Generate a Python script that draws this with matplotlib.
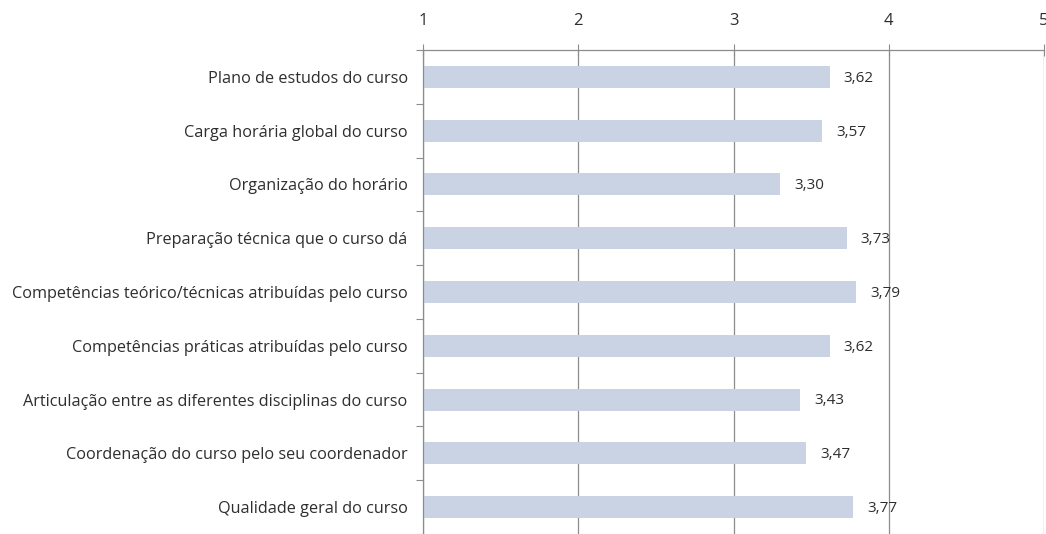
import matplotlib
matplotlib.use("Agg")
from matplotlib import pyplot as plt
import numpy as np

# Categories (top to bottom) and mean scores
categories = [
    "Plano de estudos do curso",
    "Carga horária global do curso",
    "Organização do horário",
    "Preparação técnica que o curso dá",
    "Competências teórico/técnicas atribuídas pelo curso",
    "Competências práticas atribuídas pelo curso",
    "Articulação entre as diferentes disciplinas do curso",
    "Coordenação do curso pelo seu coordenador",
    "Qualidade geral do curso",
]
values = [3.62, 3.57, 3.30, 3.73, 3.79, 3.62, 3.43, 3.47, 3.77]
xticks = [1, 2, 3, 4, 5]

plt.rcParams['font.family'] = ['Open Sans', 'DejaVu Sans']
text_color = '#2e2e2e'
grid_color = '#8c8c8c'

fig = plt.figure(figsize=(10.46, 5.34), dpi=100)
ax = fig.add_axes([423 / 1046, 0.0, 621 / 1046, 1 - 50 / 534])

y = np.arange(len(categories))
base = 1
ax.barh(y, [v - base for v in values], left=base, height=0.41,
        color='#c9d3e4', zorder=2)

# value labels with comma decimal
for yi, v in zip(y, values):
    ax.annotate(f"{v:.2f}".replace(".", ","), xy=(v, yi), xytext=(10, -1),
                textcoords='offset points', va='center', ha='left',
                fontsize=11, color=text_color, zorder=3)

ax.set_xlim(1, 5)
ax.set_ylim(len(categories) - 0.5, -0.5)
ax.xaxis.tick_top()
ax.set_xticks(xticks)
ax.set_xticklabels([str(t) for t in xticks])
ax.tick_params(axis='x', direction='inout', length=8, width=0.8, color=grid_color,
               labelsize=12, labelcolor=text_color, pad=11)

# category labels centered on bars, tick marks at category boundaries
ax.set_yticks(y)
ax.set_yticklabels(categories)
ax.tick_params(axis='y', which='major', length=0, labelsize=11.7,
               labelcolor=text_color, pad=11)
ax.set_yticks(np.arange(len(categories) + 1) - 0.5, minor=True)
ax.tick_params(axis='y', which='minor', length=5, width=0.8, color=grid_color,
               direction='out')

ax.grid(axis='x', color=grid_color, linewidth=0.9, zorder=1)
ax.set_axisbelow(True)
for side in ['right', 'bottom']:
    ax.spines[side].set_visible(False)
for side in ['top', 'left']:
    ax.spines[side].set_color(grid_color)
    ax.spines[side].set_linewidth(0.9)

fig.savefig("out.png", dpi=100)
